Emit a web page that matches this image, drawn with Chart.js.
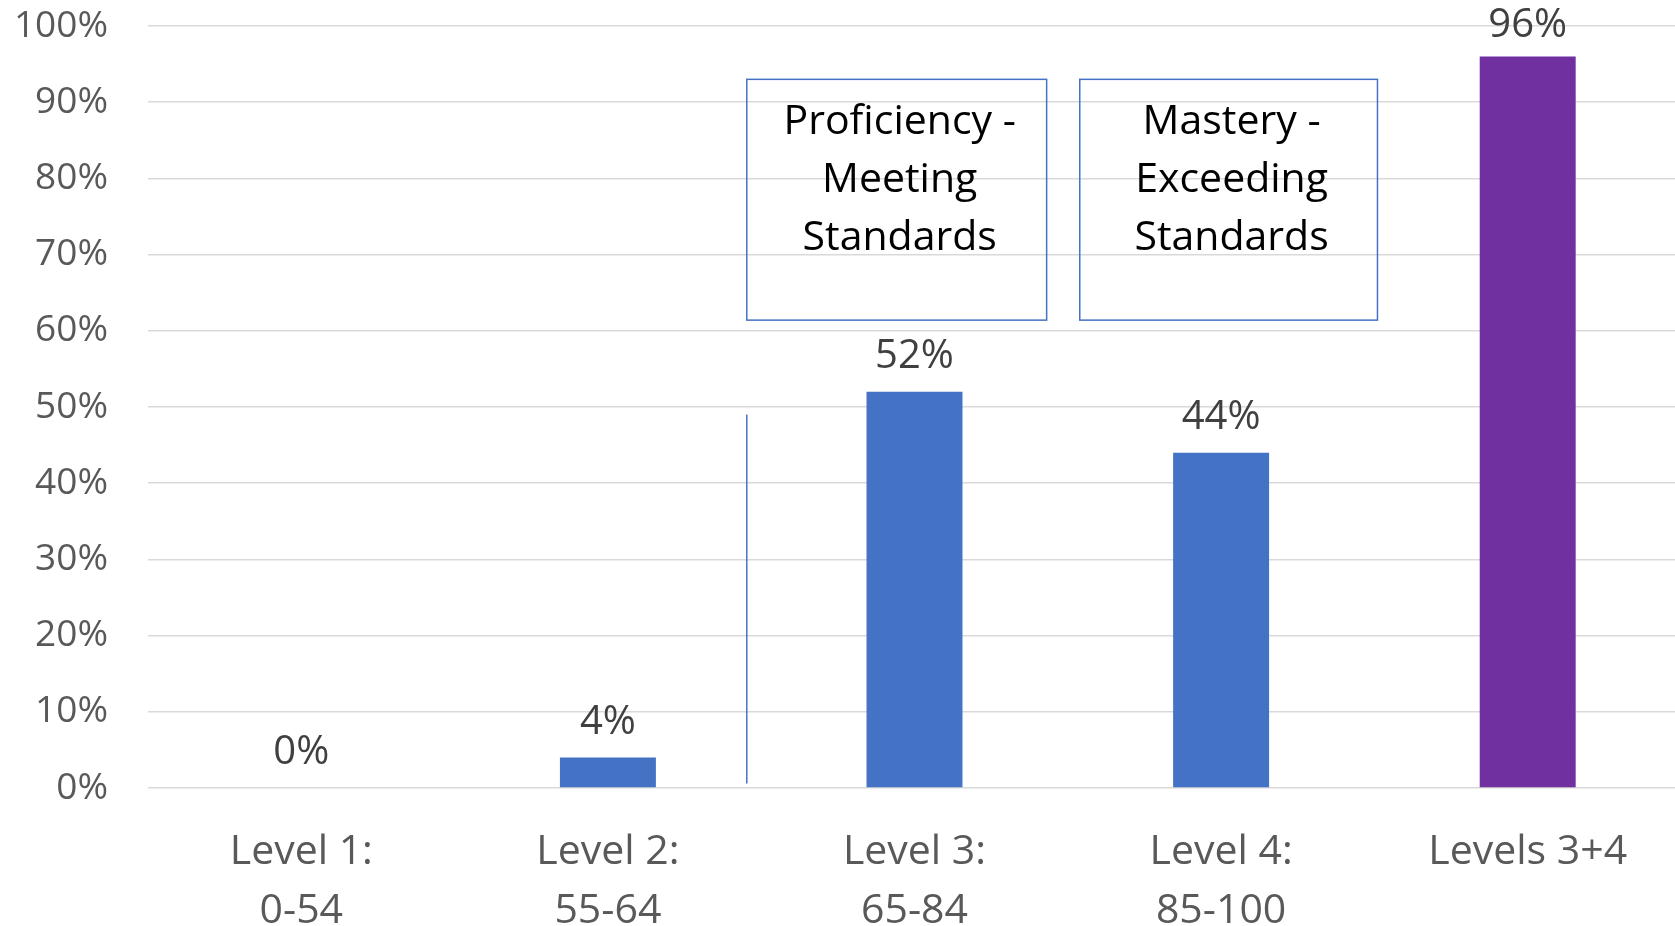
<!DOCTYPE html>
<html>
<head>
<meta charset="utf-8">
<title>Levels</title>
<script src="https://cdn.jsdelivr.net/npm/chart.js@4.4.1/dist/chart.umd.min.js"></script>
<style>
  html, body { margin: 0; padding: 0; background: #fff; overflow: hidden; }
  #wrap { width: 1681px; height: 926px; }
</style>
</head>
<body>
<div id="wrap"><canvas id="grafica"></canvas></div>
<script>
const labels = [['Level 1:', '0-54'], ['Level 2:', '55-64'], ['Level 3:', '65-84'], ['Level 4:', '85-100'], 'Levels 3+4'];
const percentages = [0, 4, 52, 44, 96];
const barColors = ['#4472C4', '#4472C4', '#4472C4', '#4472C4', '#7030A0'];

// callout boxes, in category-index / percent units
const proficiencyText = ['Proficiency -', 'Meeting', 'Standards'];
const proficiencyX = [1.453, 2.431];
const masteryText = ['Mastery -', 'Exceeding', 'Standards'];
const masteryX = [2.539, 3.51];
const calloutY = [61.4, 93];
// thin divider line
const dividerX = 1.453;
const dividerY = [0.6, 49];

const blue = '#4472C4';
const gridGrey = '#D9D9D9';

const barValueLabels = {
    id: 'barValueLabels',
    afterDatasetsDraw(chart) {
        const ctx = chart.ctx;
        const meta = chart.getDatasetMeta(0);
        ctx.save();
        ctx.font = '40px "Open Sans"';
        ctx.fillStyle = '#404040';
        ctx.textAlign = 'center';
        ctx.textBaseline = 'alphabetic';
        meta.data.forEach((bar, i) => {
            // keep the label from running off the top of the plot
            const y = Math.max(bar.y - 24, chart.chartArea.top + 11);
            ctx.fillText(percentages[i] + '%', bar.x, y);
        });
        ctx.restore();
    }
};

const callouts = {
    id: 'callouts',
    afterDatasetsDraw(chart) {
        const ctx = chart.ctx;
        const x = chart.scales.x;
        const y = chart.scales.y;
        ctx.save();
        ctx.strokeStyle = blue;
        ctx.lineWidth = 1.5;

        // divider
        ctx.beginPath();
        ctx.moveTo(x.getPixelForValue(dividerX), y.getPixelForValue(dividerY[0]));
        ctx.lineTo(x.getPixelForValue(dividerX), y.getPixelForValue(dividerY[1]));
        ctx.stroke();

        [[proficiencyX, proficiencyText], [masteryX, masteryText]].forEach(([xs, lines]) => {
            const left = x.getPixelForValue(xs[0]);
            const right = x.getPixelForValue(xs[1]);
            const top = y.getPixelForValue(calloutY[1]);
            const bottom = y.getPixelForValue(calloutY[0]);
            ctx.strokeRect(left, top, right - left, bottom - top);

            ctx.fillStyle = '#000';
            ctx.font = '41px "Open Sans"';
            ctx.textAlign = 'center';
            ctx.textBaseline = 'alphabetic';
            lines.forEach((t, i) => {
                ctx.fillText(t, (left + right) / 2 + 3, top + 55 + i * 58);
            });
        });
        ctx.restore();
    }
};

const data = {
    labels: labels,
    datasets: [{
        label: 'Percent',
        data: percentages,
        backgroundColor: barColors,
        borderWidth: 0,
        barPercentage: 0.313,
        categoryPercentage: 1
    }]
};

const config = {
    type: 'bar',
    data: data,
    options: {
        responsive: true,
        maintainAspectRatio: false,
        animation: false,
        layout: { padding: { top: 26, left: 0, right: 0, bottom: 0 } },
        plugins: {
            legend: { display: false },
            tooltip: { enabled: false }
        },
        scales: {
            x: {
                grid: { display: false, drawTicks: false },
                border: { display: false },
                ticks: {
                    color: '#595959',
                    font: { family: '"Open Sans"', size: 41, lineHeight: 1.44 },
                    padding: 35,
                    maxRotation: 0,
                    autoSkip: false
                },
                afterFit(scale) {
                    scale.height = 138;
                    scale.paddingTop = 0;
                    scale.paddingBottom = 0;
                    scale.paddingLeft = 0;
                    scale.paddingRight = 0;
                }
            },
            y: {
                min: 0,
                max: 100,
                grid: { color: gridGrey, lineWidth: 1.5, drawTicks: false },
                border: { display: false },
                ticks: {
                    stepSize: 10,
                    color: '#595959',
                    font: { family: '"Open Sans"', size: 37 },
                    padding: 40,
                    callback: v => v + '%'
                },
                afterFit(scale) {
                    scale.width = 148;
                    scale.paddingTop = 0;
                    scale.paddingBottom = 0;
                }
            }
        }
    },
    plugins: [barValueLabels, callouts]
};

const $graph = document.getElementById('grafica');

document.fonts.load('40px "Open Sans"').finally(() => {
    if ($graph) {
        new Chart($graph, config);
    } else {
        console.error('Chart canvas not found');
    }
});
</script>
</body>
</html>
